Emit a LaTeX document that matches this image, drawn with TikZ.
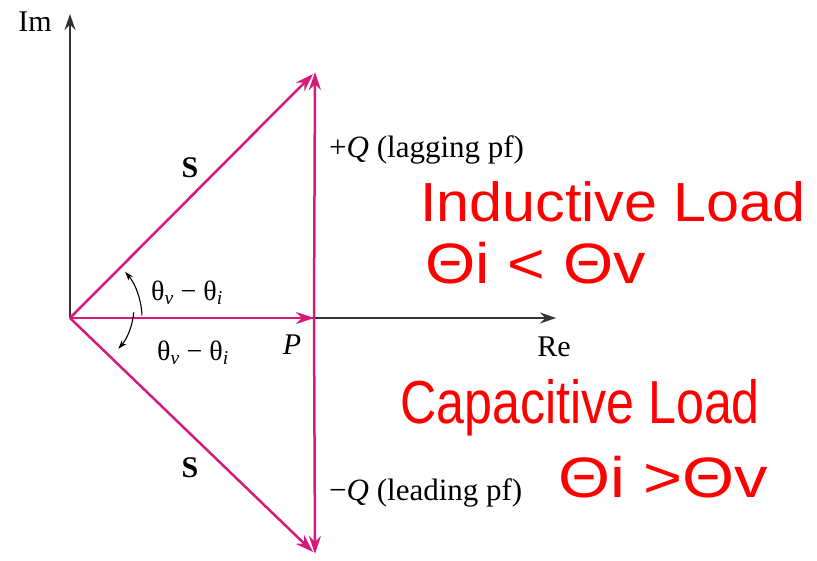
\documentclass[tikz,border=0pt]{standalone}
\usepackage{fontspec}
\usepackage{graphicx}
\setmainfont{Liberation Serif}
\newfontfamily\handfont{Liberation Sans}
\usetikzlibrary{arrows.meta}
\definecolor{vec}{RGB}{214,26,122}
\definecolor{ink}{RGB}{255,0,0}
\tikzset{
  axis/.style={draw=black!80, line width=1.4pt, -{Stealth[length=16pt,width=11pt]}},
  vecline/.style={draw=vec, line width=2.5pt, -{Stealth[length=18pt,width=12pt]}},
  anglearc/.style={draw=black, line width=1.1pt, -{Stealth[length=9pt,width=6pt]}},
  lbl/.style={font=\fontsize{30}{32}\selectfont, inner sep=0pt},
  qlbl/.style={font=\fontsize{31}{33}\selectfont, inner sep=0pt, anchor=west},
  thlbl/.style={font=\fontsize{28}{30}\selectfont, inner sep=0pt},
  hand/.style={text=ink, font=\handfont\fontsize{38}{40}\selectfont, inner sep=0pt, anchor=west}
}
\begin{document}
\begin{tikzpicture}[x=1pt,y=-1pt]
\useasboundingbox (0,0) rectangle (817,560);
\coordinate (O) at (70,318);
\coordinate (imtip) at (70,14);
\coordinate (retip) at (556,318);
\coordinate (P) at (314,318);
\coordinate (Tup) at (315,72);
\coordinate (Tdn) at (315,554);
\coordinate (Sup) at (313,74);
\coordinate (Sdn) at (313,552);
% axes
\draw[axis] (O) -- (imtip);
\draw[axis] (O) -- (retip);
% vectors
\draw[vecline] (O) -- (Sup);
\draw[vecline] (O) -- (Sdn);
\draw[vecline] (O) -- (P);
\draw[vecline] (P) -- (Tup);
\draw[vecline] (P) -- (Tdn);
% angle arcs
\draw[anglearc] ([shift={(-5:64)}]O) arc[start angle=5, end angle=41, radius=64];
\draw[anglearc] ([shift={(-2:72)}]O) arc[start angle=-2, end angle=-40, radius=72];
% labels
\node[lbl] (im) at (35,22) {Im};
\node[lbl] (re) at (554,347) {Re};
\node[lbl] (plbl) at (292,345) {\textit{P}};
\node[lbl] (s1) at (190,168) {\textbf{S}};
\node[lbl] (s2) at (190,468) {\textbf{S}};
\node[qlbl] (qp) at (329,150) {+\textit{Q} (lagging pf)};
\node[qlbl] (qm) at (329,493) {−\textit{Q} (leading pf)};
\node[thlbl] (th1) at (187,293) {θ\textsubscript{\textit{v}} − θ\textsubscript{\textit{i}}};
\node[thlbl] (th2) at (193,353) {θ\textsubscript{\textit{v}} − θ\textsubscript{\textit{i}}};
% handwritten notes
\node[hand] (ind) at (420,202) {\scalebox{1.56}[1.45]{Inductive Load}};
\node[hand] (indr) at (425,263) {\scalebox{1.7}[1.5]{Θi < Θv}};
\node[hand] (cap) at (400,408) {\scalebox{1.32}[1.6]{Capacitive Load}};
\node[hand] (capr) at (558,477) {\scalebox{1.76}[1.5]{Θi >Θv}};
\end{tikzpicture}
\end{document}
